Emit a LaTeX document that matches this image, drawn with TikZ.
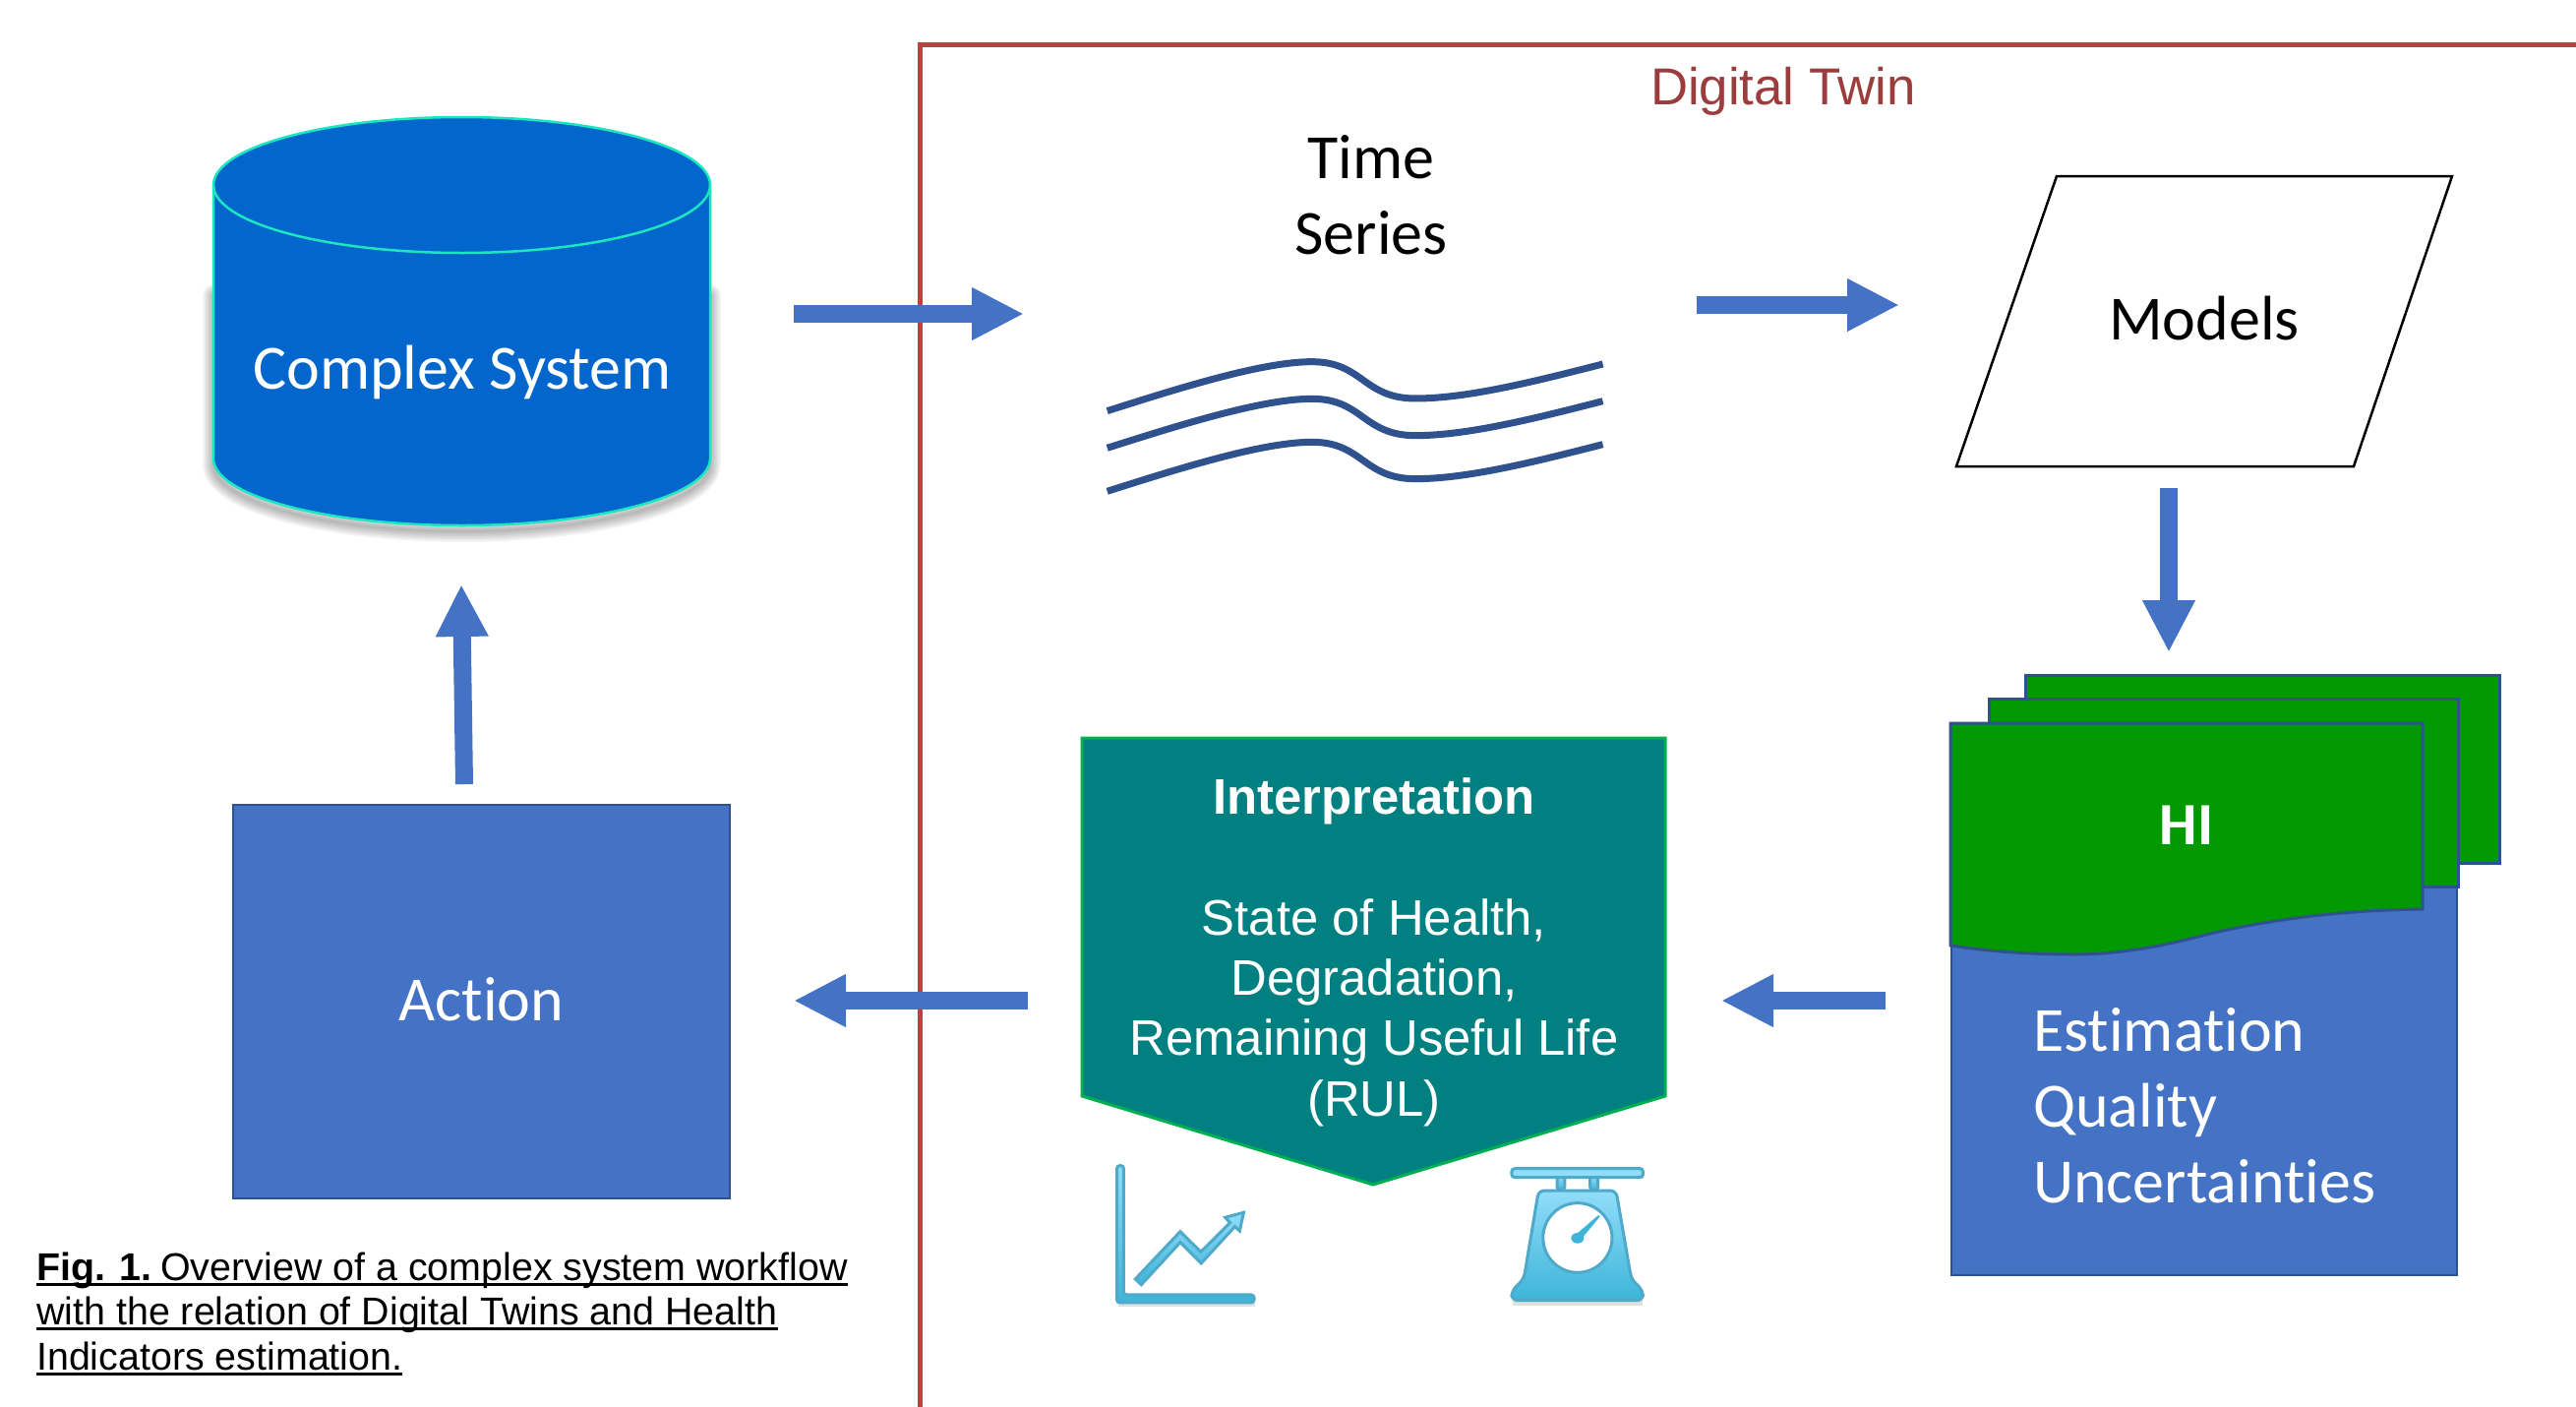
\documentclass[tikz,border=0pt]{standalone}
\usepackage{fontspec}
\setmainfont[Ligatures=CommonOff]{Carlito}
\newfontfamily\arialf{Liberation Sans}
\usetikzlibrary{arrows.meta,calc,shapes.geometric}
\definecolor{pblue}{HTML}{4472C4}
\definecolor{pedge}{HTML}{2F528F}
\definecolor{cylblue}{HTML}{0366CC}
\definecolor{cyledge}{HTML}{1CE6C0}
\definecolor{hgreen}{HTML}{009900}
\definecolor{teal2}{HTML}{008080}
\definecolor{tealedge}{HTML}{00B050}
\definecolor{frame}{HTML}{C0403F}
\definecolor{twin}{HTML}{9C3D3D}
\definecolor{iconedge}{HTML}{4FA9C9}
\definecolor{icontop}{HTML}{90DDF9}
\definecolor{iconbot}{HTML}{3DB5DA}
\newcommand{\fs}[1]{\fontsize{#1}{#1}\selectfont}
\newcommand{\capul}[1]{\setbox0\hbox{#1}\rlap{\rule[-6pt]{\wd0}{2.6pt}}\box0}
\tikzset{
  flow/.style={draw=pblue,line width=18pt,-{Triangle[length=53pt,width=50pt,fill=pblue]}},
  bluebox/.style={draw=pedge,fill=pblue,line width=2.5pt},
  sheet/.style={draw=pedge,fill=hgreen,line width=3pt},
  wave/.style={draw=pedge,line width=7pt},
  txt/.style={inner sep=0pt,align=center,font=\fs{64}},
  wtxt/.style={txt,text=white},
  atxt/.style={inner sep=0pt,text=white,font=\arialf\fs{50.8}},
  capline/.style={inner sep=0pt,anchor=base west,font=\arialf\fs{39.4}},
  iconpart/.style={draw=iconedge,line width=3pt,top color=icontop,bottom color=iconbot,rounded corners=3pt},
}
\begin{document}
\begin{tikzpicture}[x=1pt,y=-1pt]
\useasboundingbox (0,0) rectangle (2619,1430);
\fill[white] (0,0) rectangle (2619,1430);

% red frame
\draw[frame,line width=5pt] (935,1435) -- (935,45) -- (2625,45);
\node[inner sep=0pt,text=twin,font=\arialf\fs{52.8}] (dt) at (1813,93) {Digital Twin};

% cylinder shadow
\foreach \w in {22,19,...,1}{
  \draw[black,opacity=0.04,line width=\w pt,line join=round,line cap=round]
    (217,300) -- (217,472) arc[x radius=252.5,y radius=68,start angle=180,end angle=0] -- (722,300);
}
% cylinder
\path[draw=cyledge,fill=cylblue,line width=2.5pt]
  (217,188) arc[x radius=252.5,y radius=69,start angle=180,end angle=360]
  -- (722,466) arc[x radius=252.5,y radius=68,start angle=0,end angle=180] -- cycle;
\draw[cyledge,line width=2.5pt] (217,188) arc[x radius=252.5,y radius=69,start angle=180,end angle=0];
\node[wtxt] (complex) at (470,378) {Complex System};

% action
\node[bluebox,minimum width=505pt,minimum height=400pt,inner sep=0pt,wtxt] (action) at (489.5,1018) {\raisebox{6pt}{Action}};

% time series
\node[txt] (ts) at (1394,198) {Time\\[13pt]Series};
\foreach \o in {0,113,245}{
  \draw[wave,shift={(1100,340)},x=0.3571pt,y=-0.3333pt]
    (72,233+\o) .. controls (300,155+\o) and (520,83+\o) .. (655,83+\o)
    .. controls (800,83+\o) and (800,195+\o) .. (950,195+\o)
    .. controls (1100,195+\o) and (1300,140+\o) .. (1483,90+\o);
}

% models
\path[draw=black,line width=2.5pt,fill=white] (2091,179) -- (2493,179) -- (2393,474) -- (1989,474) -- cycle;
\node[txt] (models) at (2241,324) {Models};

% health indicators
\node[bluebox,minimum width=514pt,minimum height=396pt,inner sep=0pt] (hibase) at (2241,1098) {};
\path[sheet] (2059,686) rectangle (2541,877);
\path[sheet] (2022,710) rectangle (2499,901);
\path[sheet] (1983,735) -- (2463,735) -- (2463,924)
  .. controls (2380,925) and (2300,935) .. (2231,953)
  .. controls (2180,966) and (2140,970) .. (2111,970)
  .. controls (2070,970) and (2030,968) .. (1983,961) -- cycle;
\node[inner sep=0pt,text=white,font=\bfseries\fs{61}] (hi) at (2223,839) {HI};
\node[inner sep=0pt,text=white,font=\fs{64},anchor=west] (e1) at (2067,1047) {Estimation};
\node[inner sep=0pt,text=white,font=\fs{64},anchor=west] (e2) at (2067,1128) {Quality};
\node[inner sep=0pt,text=white,font=\fs{64},anchor=west] (e3) at (2067,1201) {Uncertainties};

% interpretation
\path[draw=tealedge,fill=teal2,line width=3pt] (1100,750) -- (1693,750) -- (1693,1114) -- (1396,1204) -- (1100,1114) -- cycle;
\node[atxt,font=\arialf\bfseries\fs{50.8}] (int) at (1397,814) {Interpretation};
\node[atxt] (i1) at (1397,935) {State of Health,};
\node[atxt] (i2) at (1397,998) {Degradation,};
\node[atxt] (i3) at (1397,1059) {Remaining Useful Life};
\node[atxt] (i4) at (1397,1121) {(RUL)};

% chart icon
\begin{scope}[shift={(1080,1150)},x=0.408pt,y=-0.3333pt]
  \fill[black,opacity=0.12] (140,520) rectangle (480,535);
  \path[iconpart] (136,104) -- (153,104) -- (153,498) -- (478,498) -- (478,522) -- (136,522) -- cycle;
  \path[iconpart,rounded corners=0pt] (182,450) -- (294,305) -- (345,367) -- (418,278) -- (406,262) -- (452,247) -- (442,303) -- (430,290) -- (346,402) -- (294,338) -- (197,467) -- cycle;
\end{scope}

% scale icon
\begin{scope}[shift={(1080,1150)},x=0.408pt,y=-0.3333pt]
  \fill[black,opacity=0.12] (1122,512) rectangle (1446,530);
  \path[iconpart] (1233,136) rectangle (1252,178);
  \path[iconpart] (1315,136) rectangle (1335,178);
  \path[draw=iconedge,line width=3pt,fill=icontop,rounded corners=3pt] (1120,113) rectangle (1447,140);
  \path[iconpart,rounded corners=6pt] (1187,180) -- (1380,180) -- (1418,450) -- (1447,485) -- (1447,515) -- (1120,515) -- (1120,485) -- (1150,450) -- cycle;
  \draw[iconedge,fill=white,line width=3pt] (1284,324) ellipse[x radius=86,y radius=106];
  \fill[iconbot] (1284,325) circle[radius=16];
  \fill[iconbot] (1276,318) -- (1336,255) -- (1340,259) -- (1292,330) -- cycle;
\end{scope}

% caption
\node[capline] (c1) at (37,1301) {\capul{\textbf{Fig. 1.}\kern-6pt{} Overview of a complex system workflow}};
\node[capline] (c2) at (37,1346) {\capul{with the relation of Digital Twins and Health}};
\node[capline] (c3) at (37,1392) {\capul{Indicators estimation.}};

% connectors
\coordinate (a1s) at (807,319);  \coordinate (a1e) at (1041,319);
\coordinate (a2s) at (1725,310); \coordinate (a2e) at (1931,310);
\coordinate (a3s) at (2205,496); \coordinate (a3e) at (2205,663);
\coordinate (a4s) at (1917,1017);\coordinate (a4e) at (1750,1017);
\coordinate (a5s) at (1045,1017);\coordinate (a5e) at (807,1017);
\coordinate (a6s) at (472,797);  \coordinate (a6e) at (469,594);
\draw[flow] (a1s) -- (a1e);
\draw[flow] (a2s) -- (a2e);
\draw[flow] (a3s) -- (a3e);
\draw[flow] (a4s) -- (a4e);
\draw[flow] (a5s) -- (a5e);
\draw[flow] (a6s) -- (a6e);
\end{tikzpicture}
\end{document}
